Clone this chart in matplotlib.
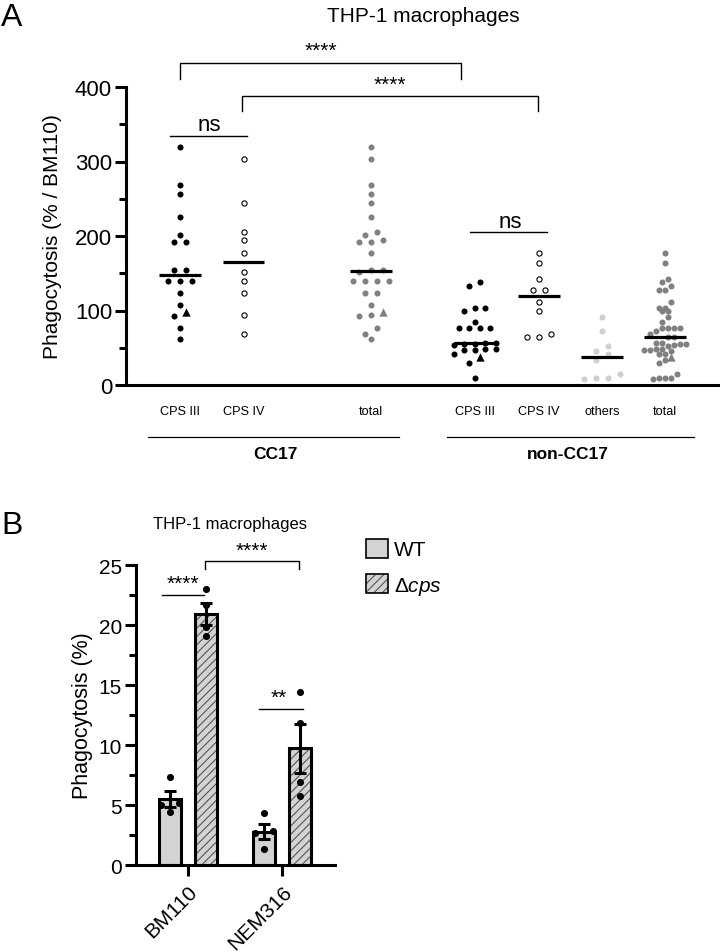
import numpy as np
import matplotlib
matplotlib.use("Agg")
import matplotlib.pyplot as plt
from matplotlib import font_manager
from matplotlib.patches import Patch
from matplotlib.ticker import MultipleLocator

# ---- data: panel A (phagocytosis, % of BM110) ----
cc17_cps3 = [320, 269, 257, 226, 202, 192, 192, 154, 154, 140, 140, 140, 123, 108, 93, 76, 62]
cc17_cps3_ref = [98]          # triangle (BM110)
cc17_cps4 = [303, 244, 206, 195, 177, 152, 139, 124, 94, 68]
non_cps3 = [138, 133, 104, 104, 99, 85, 76, 76, 76, 76, 57, 56, 55, 55, 54,
            48, 48, 47, 47, 42, 30, 10]
non_cps3_ref = [37]           # triangle (NEM316)
non_cps4 = [177, 164, 142, 128, 128, 112, 100, 69, 64, 64]
non_others = [91, 73, 52, 46, 41, 34, 15, 10, 10, 8]

group_labels = ["CPS III", "CPS IV", "total", "CPS III", "CPS IV", "others", "total"]

# ---- data: panel B (phagocytosis %) ----
strains = ["BM110", "NEM316"]
wt_vals = [[7.35, 5.2, 5.0, 4.45], [4.3, 2.8, 2.7, 1.35]]
dcps_vals = [[23.0, 21.7, 19.85, 19.05], [14.4, 11.8, 6.9, 5.75]]

# ---- fonts ----
avail = {f.name for f in font_manager.fontManager.ttflist}
plt.rcParams["font.family"] = ["Liberation Sans", "DejaVu Sans"]
narrow = "Liberation Sans Narrow" if "Liberation Sans Narrow" in avail else "Liberation Sans"
lab_fs = 10.5 if narrow != "Liberation Sans" else 9.2
plt.rcParams["hatch.linewidth"] = 0.8
plt.rcParams["mathtext.fontset"] = "custom"
plt.rcParams["mathtext.it"] = "Liberation Sans:italic"
plt.rcParams["mathtext.rm"] = "Liberation Sans"

W, H = 720, 953
fig = plt.figure(figsize=(W / 100, H / 100), dpi=100)


def rows_swarm(values, px_per_y, dx_px, dy_px, max_half_px, px_per_x):
    """Row-binned swarm (GraphPad-like). Returns x offsets in data units."""
    v = np.asarray(values, float)
    order = np.argsort(-v)
    rows, cur = [], [order[0]]
    for i in order[1:]:
        if abs(v[cur[0]] - v[i]) * px_per_y <= dy_px:
            cur.append(i)
        else:
            rows.append(cur)
            cur = [i]
    rows.append(cur)
    nmax = max(len(r) for r in rows)
    if nmax > 1:
        dx_px = min(dx_px, 2 * max_half_px / (nmax - 1))
    off = np.zeros(len(v))
    for r in rows:
        r = sorted(r, key=lambda k: v[k])
        n = len(r)
        for j, k in enumerate(r):
            off[k] = (j - (n - 1) / 2) * dx_px
    return off / px_per_x


# =================== Panel A ===================
axA = fig.add_axes([126 / W, 1 - 386 / H, (718 - 126) / W, (386 - 88) / H])
x_left, x_right = -0.85, 8.47
axA.set_xlim(x_left, x_right)
axA.set_ylim(0, 400)
pxx_A = (718 - 126) / (x_right - x_left)
pxy_A = (386 - 88) / 400

positions = [0, 1, 3, 4.64, 5.65, 6.65, 7.64]
BLACK, GRAY, LIGHT = "black", "#808080", "#cfcfcf"

groups = [
    (cc17_cps3, cc17_cps3_ref, BLACK, "filled"),
    (cc17_cps4, [], BLACK, "open"),
    (cc17_cps3 + cc17_cps4, cc17_cps3_ref, GRAY, "filled"),
    (non_cps3, non_cps3_ref, BLACK, "filled"),
    (non_cps4, [], BLACK, "open"),
    (non_others, [], LIGHT, "filled"),
    (non_cps3 + non_cps4 + non_others, non_cps3_ref, GRAY, "filled"),
]

for pos, (vals, ref, col, style) in zip(positions, groups):
    allv = list(vals) + list(ref)
    off = rows_swarm(allv, pxy_A, 12, 6.5, 21, pxx_A)
    n = len(vals)
    xs = pos + off
    if style == "open":
        axA.scatter(xs[:n], vals, s=14, facecolor="white", edgecolor="black",
                    linewidth=0.8, zorder=3)
    else:
        axA.scatter(xs[:n], vals, s=19, color=col, linewidth=0, zorder=3)
    if ref:
        axA.scatter(xs[n:], ref, s=36, marker="^", color=col, linewidth=0, zorder=3)
    axA.hlines(np.median(allv), pos - 0.33, pos + 0.33, color="black", lw=2.3, zorder=4)

for s in ["top", "right"]:
    axA.spines[s].set_visible(False)
for s in ["left", "bottom"]:
    axA.spines[s].set_linewidth(2.2)
axA.set_xticks([])
axA.yaxis.set_major_locator(MultipleLocator(100))
axA.yaxis.set_minor_locator(MultipleLocator(50))
axA.tick_params(axis="y", which="major", length=8, width=2.2, labelsize=16, pad=2)
axA.tick_params(axis="y", which="minor", length=5, width=2.2)
axA.set_ylabel("Phagocytosis (% / BM110)", fontsize=15, labelpad=9)

# group labels under the axis
for pos, lab in zip(positions, group_labels):
    axA.text(pos, -35, lab, ha="center", va="center", fontsize=lab_fs, family=narrow)
axA.plot([-0.5, 3.45], [-70, -70], color="black", lw=0.9, clip_on=False)
axA.plot([4.2, 8.1], [-70, -70], color="black", lw=0.9, clip_on=False)
axA.text(1.5, -92, "CC17", ha="center", va="center", fontsize=12.5,
         fontweight="bold", family=narrow)
axA.text(6.1, -92, "non-CC17", ha="center", va="center", fontsize=12.5,
         fontweight="bold", family=narrow)


def bracket(ax, x0, x1, y, drop, text, ty, fs=15):
    ax.plot([x0, x0, x1, x1], [y - drop, y, y, y - drop], color="black", lw=1,
            clip_on=False)
    ax.text((x0 + x1) / 2, ty, text, ha="center", va="center", fontsize=fs,
            clip_on=False)


bracket(axA, 0, 4.43, 432, 21, "****", 449)
bracket(axA, 0.98, 5.63, 388, 20, "****", 404)
axA.plot([-0.16, 1.06], [334, 334], color="black", lw=1, clip_on=False)
axA.text(0.46, 349, "ns", ha="center", va="center", fontsize=16)
axA.plot([4.57, 5.78], [205, 205], color="black", lw=1, clip_on=False)
axA.text(5.2, 220, "ns", ha="center", va="center", fontsize=16)

fig.text(423 / W, 1 - 17 / H, "THP-1 macrophages", ha="center", va="center", fontsize=15)
fig.text(1 / W, 1 - 18 / H, "A", ha="left", va="center", fontsize=23)

# =================== Panel B ===================
axB = fig.add_axes([136 / W, 1 - 866 / H, (335 - 136) / W, (866 - 566) / H])
xb_l, xb_r = -0.553, 1.564
axB.set_xlim(xb_l, xb_r)
axB.set_ylim(0, 25)
pxx_B = (335 - 136) / (xb_r - xb_l)
pxy_B = 300 / 25

x = np.arange(len(strains))
bw, shift = 0.234, 0.19
wt_mean = [np.mean(v) for v in wt_vals]
wt_sem = [np.std(v, ddof=1) / np.sqrt(len(v)) for v in wt_vals]
d_mean = [np.mean(v) for v in dcps_vals]
d_sem = [np.std(v, ddof=1) / np.sqrt(len(v)) for v in dcps_vals]

axB.bar(x - shift, wt_mean, bw, color="#d3d3d3", edgecolor="black", lw=2.2, zorder=2)
axB.bar(x + shift, d_mean, bw, color="#d3d3d3", edgecolor="#555555", hatch="////",
        lw=0, zorder=2)
axB.bar(x + shift, d_mean, bw, facecolor="none", edgecolor="black", lw=2.2, zorder=2.5)
axB.errorbar(x - shift, wt_mean, yerr=wt_sem, fmt="none", ecolor="black",
             elinewidth=2.2, capsize=4, capthick=2.2, zorder=3)
axB.errorbar(x + shift, d_mean, yerr=d_sem, fmt="none", ecolor="black",
             elinewidth=2.2, capsize=4, capthick=2.2, zorder=3)
for i in range(len(strains)):
    for xc, vals in [(x[i] - shift, wt_vals[i]), (x[i] + shift, dcps_vals[i])]:
        off = rows_swarm(vals, pxy_B, 18, 6.5, 20, pxx_B)
        axB.scatter(xc + off, vals, s=26, color="black", linewidth=0, zorder=4)

for s in ["top", "right"]:
    axB.spines[s].set_visible(False)
for s in ["left", "bottom"]:
    axB.spines[s].set_linewidth(2.2)
axB.set_xticks(x)
axB.set_xticklabels(strains, rotation=45, ha="right", rotation_mode="anchor", fontsize=15)
axB.yaxis.set_major_locator(MultipleLocator(5))
axB.yaxis.set_minor_locator(MultipleLocator(2.5))
axB.tick_params(axis="both", which="major", length=8, width=2.2, labelsize=15, pad=2)
axB.tick_params(axis="x", pad=4)
axB.tick_params(axis="y", which="minor", length=5, width=2.2)
axB.set_ylabel("Phagocytosis (%)", fontsize=15.5, labelpad=4)

axB.plot([-0.277, 0.17], [22.5, 22.5], color="black", lw=1, clip_on=False)
axB.text(-0.05, 23.5, "****", ha="center", va="center", fontsize=15)
bracket(axB, 0.18, 1.18, 25.3, 0.6, "****", 26.2)
axB.plot([0.755, 1.22], [13.0, 13.0], color="black", lw=1, clip_on=False)
axB.text(0.97, 14.0, "**", ha="center", va="center", fontsize=15)

fig.text(230 / W, 1 - 524 / H, "THP-1 macrophages", ha="center", va="center", fontsize=12)
fig.text(1 / W, 1 - 526 / H, "B", ha="left", va="center", fontsize=23)

h_wt = Patch(facecolor="#d3d3d3", edgecolor="black", lw=1.2)
h_d = (Patch(facecolor="#d3d3d3", edgecolor="#555555", hatch="////", lw=0),
       Patch(facecolor="none", edgecolor="black", lw=1.2))
fig.legend([h_wt, h_d], ["WT", r"$\Delta\mathit{cps}$"], loc="upper left",
           bbox_to_anchor=(366 / W, 1 - 540 / H), frameon=False, fontsize=15,
           handlelength=1.05, handleheight=1.0, handletextpad=0.3, labelspacing=0.72,
           borderaxespad=0, borderpad=0)

fig.savefig("out.png", dpi=100)
